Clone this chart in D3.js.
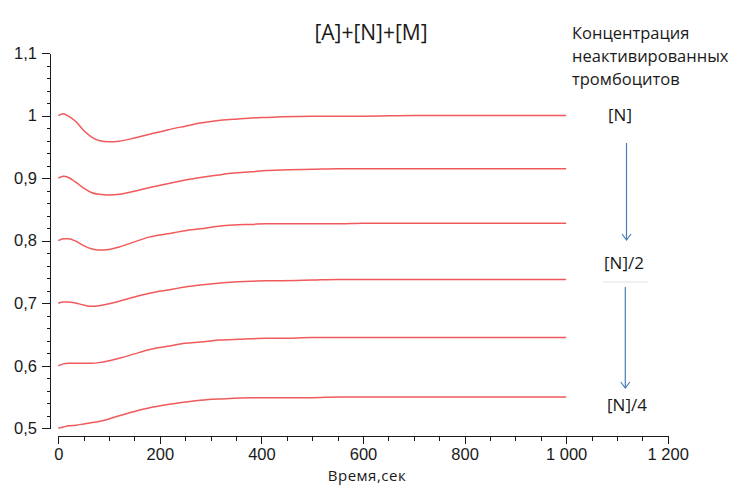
<!DOCTYPE html>
<html>
<head>
  <meta charset="utf-8">
  <style>
    body { margin: 0; background: #fff; }
    svg { font-family: "Open Sans", "Noto Sans", sans-serif; }
    .axis path, .axis line { stroke: #1a1a1a; shape-rendering: crispEdges; }
    .axis text { fill: #1a1a1a; font-size: 16.5px; }
    .curve { fill: none; stroke: #f05a5c; stroke-width: 1.5; }
    .note { fill: #1a1a1a; font-size: 16.5px; }
    .lbl { fill: #1a1a1a; font-size: 17px; }
    .arrow { stroke: #4a7ebb; stroke-width: 1.2; fill: none; }
  </style>
</head>
<body>
<svg width="732" height="485"></svg>
<script src="https://d3js.org/d3.v7.min.js"></script>
<script>

// time, sec
var times = [0, 10, 20, 35, 50, 65, 80, 100, 120, 150, 180, 215, 250, 280, 315, 345, 380, 410, 440, 500, 550, 600, 700, 800, 900, 1000];

// [A]+[N]+[M] for different starting [N]
var sN    = [1.000, 1.003, 0.999, 0.990, 0.976, 0.966, 0.960, 0.958, 0.959, 0.964, 0.970, 0.977, 0.983, 0.988, 0.992, 0.994, 0.996, 0.997, 0.998, 0.999, 0.999, 0.999, 1.000, 1.000, 1.000, 1.000];
var s2    = [0.900, 0.903, 0.901, 0.893, 0.884, 0.877, 0.874, 0.873, 0.874, 0.879, 0.885, 0.891, 0.897, 0.901, 0.905, 0.908, 0.910, 0.912, 0.913, 0.914, 0.915, 0.915, 0.915, 0.915, 0.915, 0.915];
var s3    = [0.800, 0.803, 0.803, 0.799, 0.792, 0.787, 0.785, 0.786, 0.790, 0.798, 0.806, 0.811, 0.816, 0.819, 0.823, 0.825, 0.826, 0.827, 0.827, 0.827, 0.827, 0.828, 0.828, 0.828, 0.828, 0.828];
var s4    = [0.700, 0.702, 0.702, 0.700, 0.697, 0.695, 0.696, 0.699, 0.703, 0.710, 0.716, 0.721, 0.726, 0.729, 0.732, 0.734, 0.735, 0.736, 0.736, 0.737, 0.738, 0.738, 0.738, 0.738, 0.738, 0.738];
var s5    = [0.600, 0.603, 0.604, 0.604, 0.604, 0.604, 0.605, 0.608, 0.612, 0.619, 0.626, 0.631, 0.636, 0.638, 0.641, 0.642, 0.643, 0.644, 0.644, 0.645, 0.645, 0.645, 0.645, 0.645, 0.645, 0.645];
var s6    = [0.500, 0.502, 0.504, 0.505, 0.507, 0.509, 0.511, 0.515, 0.520, 0.527, 0.533, 0.538, 0.542, 0.545, 0.547, 0.548, 0.549, 0.549, 0.549, 0.549, 0.550, 0.550, 0.550, 0.550, 0.550, 0.550];
var series = [sN, s2, s3, s4, s5, s6];

var xTicks = [0, 200, 400, 600, 800, 1000, 1200];
var yTicks = [0.5, 0.6, 0.7, 0.8, 0.9, 1.0, 1.1];

var svg = d3.select("svg");

var ru = d3.formatLocale({decimal: ",", thousands: "\u00a0", grouping: [3], currency: ["", ""]});

var x = d3.scaleLinear().domain([0, 1200]).range([58.3, 667.7]);
var y = d3.scaleLinear().domain([0.5, 1.1]).range([428.3, 53]);

// y axis: minor ticks first, then major with labels
svg.append("g")
  .attr("class", "axis")
  .attr("transform", "translate(50,0)")
  .call(d3.axisLeft(y).tickValues(d3.range(0.5, 1.1001, 0.02)).tickSize(3.5).tickSizeOuter(0).tickFormat(""))
  .selectAll("text").remove();

svg.append("g")
  .attr("class", "axis")
  .attr("transform", "translate(50,0)")
  .call(d3.axisLeft(y).tickValues(yTicks).tickSize(8).tickSizeOuter(0).tickPadding(5).tickFormat(function(d) {
    return d === 1 ? "1" : ru.format(".1f")(d);
  }));

// x axis
svg.append("g")
  .attr("class", "axis")
  .attr("transform", "translate(0,436)")
  .call(d3.axisBottom(x).tickValues(d3.range(0, 1201, 50)).tickSize(5).tickSizeOuter(0).tickFormat(""))
  .selectAll("text").remove();

svg.append("g")
  .attr("class", "axis")
  .attr("transform", "translate(0,436)")
  .call(d3.axisBottom(x).tickValues(xTicks).tickSize(8).tickSizeOuter(0).tickPadding(4).tickFormat(ru.format(",d")));

var line = d3.line()
  .x(function(d, i) { return x(times[i]); })
  .y(function(d) { return y(d); })
  .curve(d3.curveMonotoneX);

svg.selectAll(".curve")
  .data(series)
  .enter().append("path")
  .attr("class", "curve")
  .attr("d", line);

// title & axis label
svg.append("text")
  .attr("x", 371).attr("y", 40)
  .attr("text-anchor", "middle")
  .attr("font-size", 21)
  .attr("fill", "#1a1a1a")
  .text("[A]+[N]+[M]");

svg.append("text")
  .attr("x", 367).attr("y", 481)
  .attr("text-anchor", "middle")
  .attr("font-size", 15)
  .attr("letter-spacing", 0.5)
  .attr("fill", "#1a1a1a")
  .text("Время,сек");

// annotation on the right
var notes = ["Концентрация", "неактивированных", "тромбоцитов"];
svg.selectAll(".notehead")
  .data(notes)
  .enter().append("text")
  .attr("class", "note")
  .attr("x", 572)
  .attr("y", function(d, i) { return 39 + i * 23; })
  .text(function(d) { return d; });

var labels = [{t: "[N]", x: 620, y: 121}, {t: "[N]/2", x: 624, y: 269}, {t: "[N]/4", x: 627, y: 411}];
svg.selectAll(".lbl")
  .data(labels)
  .enter().append("text")
  .attr("class", "lbl")
  .attr("text-anchor", "middle")
  .attr("x", function(d) { return d.x; })
  .attr("y", function(d) { return d.y; })
  .text(function(d) { return d.t; });

svg.append("line")
  .attr("x1", 603).attr("x2", 648).attr("y1", 282).attr("y2", 282)
  .attr("stroke", "#e3e3e3").attr("stroke-width", 1.2);

var arrows = [{x: 626.5, y1: 143, y2: 240}, {x: 625.3, y1: 287, y2: 388}];
arrows.forEach(function(a) {
  svg.append("line").attr("class", "arrow")
    .attr("x1", a.x).attr("x2", a.x).attr("y1", a.y1).attr("y2", a.y2);
  svg.append("path").attr("class", "arrow")
    .attr("d", "M" + (a.x - 4.5) + "," + (a.y2 - 6) + "L" + a.x + "," + a.y2 + "L" + (a.x + 4.5) + "," + (a.y2 - 6));
});

</script>
</body>
</html>
